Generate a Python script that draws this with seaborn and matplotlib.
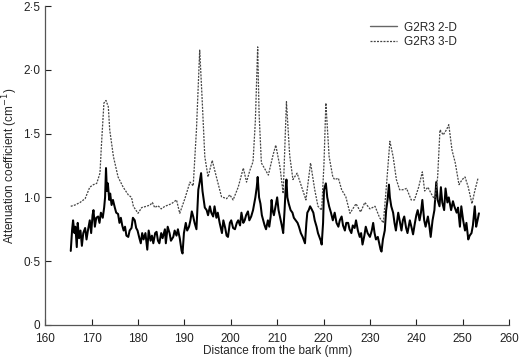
import matplotlib
matplotlib.use("Agg")
import matplotlib.pyplot as plt
import seaborn as sns
import pandas as pd

# ---- data ----
x_2d = [165.5,165.8,166.0,166.3,166.5,166.8,167.0,167.3,167.6,167.9,168.2,168.6,168.9,169.2,169.6,169.9,
        170.2,170.4,170.7,171.0,171.4,171.7,172.0,172.4,172.7,172.9,173.1,173.3,173.5,173.8,174.0,174.3,
        174.6,175.0,175.3,175.7,176.0,176.3,176.6,176.9,177.2,177.5,177.9,178.2,178.6,178.9,179.3,179.6,
        179.9,180.3,180.6,180.9,181.2,181.6,182.0,182.3,182.7,183.0,183.3,183.7,184.0,184.3,184.6,185.0,
        185.3,185.8,186.0,186.4,186.8,187.1,187.6,187.9,188.3,188.6,189.0,189.4,189.6,189.9,190.3,190.6,
        191.0,191.3,191.6,191.9,192.2,192.6,193.0,193.3,193.6,193.9,194.1,194.4,194.8,195.1,195.5,195.8,
        196.2,196.5,196.9,197.2,197.6,198.1,198.4,198.8,199.1,199.4,199.8,200.1,200.5,200.9,201.3,201.6,
        202.0,202.3,202.7,203.0,203.3,203.7,204.0,204.4,204.8,205.3,205.6,205.8,206.1,206.4,206.7,207.0,
        207.3,207.6,208.0,208.3,208.6,208.8,209.0,209.3,209.6,210.0,210.3,210.6,211.0,211.3,211.6,211.8,
        212.0,212.2,212.5,212.9,213.3,213.6,214.0,214.4,214.7,215.1,215.5,215.8,216.0,216.3,216.5,216.8,
        217.1,217.4,217.8,218.1,218.5,218.8,219.1,219.4,219.6,219.9,220.1,220.5,220.8,221.2,221.6,222.0,
        222.4,222.8,223.2,223.5,223.9,224.2,224.6,224.9,225.3,225.6,226.0,226.3,226.7,227.0,227.4,227.8,
        228.1,228.4,228.8,229.1,229.5,230.0,230.4,230.7,231.0,231.3,231.7,232.0,232.3,232.5,232.8,233.2,
        233.5,233.8,234.1,234.3,234.6,235.0,235.3,235.6,236.1,236.5,236.8,237.1,237.4,237.8,238.1,238.6,
        239.0,239.3,239.7,240.0,240.3,240.7,241.0,241.3,241.7,242.0,242.5,242.8,243.1,243.5,243.9,244.3,
        244.6,245.0,245.3,245.6,246.0,246.3,246.7,247.0,247.3,247.5,247.9,248.2,248.7,249.0,249.4,249.7,
        250.1,250.5,250.8,251.2,251.5,251.9,252.2,252.6,252.9,253.2,253.5]
y_2d = [0.58,0.75,0.82,0.72,0.77,0.61,0.80,0.68,0.74,0.62,0.72,0.76,0.67,0.74,0.82,0.72,
        0.86,0.90,0.77,0.84,0.85,0.80,0.88,0.84,0.92,1.00,1.23,1.05,1.11,0.98,1.03,0.94,
        0.98,0.92,0.88,0.87,0.80,0.84,0.78,0.74,0.77,0.70,0.69,0.74,0.76,0.84,0.82,0.76,
        0.74,0.68,0.64,0.72,0.67,0.72,0.59,0.74,0.66,0.70,0.64,0.72,0.73,0.66,0.64,0.72,
        0.68,0.75,0.64,0.77,0.72,0.66,0.69,0.74,0.70,0.75,0.68,0.58,0.56,0.72,0.80,0.74,
        0.77,0.82,0.89,0.85,0.80,0.75,1.06,1.12,1.19,1.05,1.00,0.92,0.90,0.86,0.93,0.88,
        0.85,0.93,0.84,0.88,0.80,0.72,0.82,0.76,0.70,0.69,0.80,0.82,0.76,0.75,0.80,0.82,
        0.78,0.88,0.80,0.82,0.86,0.89,0.82,0.85,0.90,1.00,1.08,1.16,1.00,0.95,0.86,0.82,
        0.78,0.75,0.82,0.77,0.85,0.98,0.90,0.86,0.92,1.00,0.90,0.85,0.78,0.72,0.90,1.05,
        1.14,1.00,0.95,0.90,0.88,0.84,0.82,0.80,0.77,0.72,0.69,0.66,0.64,0.80,0.88,0.90,
        0.93,0.91,0.88,0.82,0.77,0.72,0.69,0.66,0.63,0.80,1.06,1.11,1.00,0.93,0.88,0.82,
        0.88,0.80,0.77,0.82,0.85,0.78,0.74,0.80,0.80,0.75,0.72,0.78,0.76,0.82,0.74,0.69,
        0.72,0.63,0.70,0.77,0.72,0.69,0.74,0.80,0.72,0.67,0.69,0.64,0.59,0.575,0.67,0.74,
        0.90,0.98,1.10,1.00,0.93,0.88,0.80,0.74,0.88,0.80,0.74,0.82,0.85,0.76,0.72,0.82,
        0.76,0.71,0.80,0.86,0.90,0.82,0.88,0.98,0.82,0.77,0.85,0.78,0.69,0.82,0.90,1.12,
        0.98,0.93,1.08,0.96,0.90,1.07,0.96,1.00,0.94,0.90,0.97,0.93,0.88,0.92,0.77,0.93,
        0.82,0.74,0.80,0.67,0.70,0.72,0.78,0.93,0.77,0.82,0.875]

x_3d = [165.5,166.4,167.5,168.6,169.6,170.4,171.1,171.8,172.1,172.65,173.1,173.6,173.9,174.7,175.7,176.8,
        177.9,178.6,179.0,180.0,180.8,181.8,182.6,183.1,183.6,184.3,185.0,185.8,186.5,187.2,188.3,189.0,
        190.1,191.2,191.9,192.6,193.3,193.8,194.4,195.1,196.0,196.9,198.0,199.1,199.8,200.5,201.6,202.7,
        203.4,204.1,204.8,205.3,205.8,206.1,206.6,208.1,209.1,209.7,210.6,211.3,212.0,212.7,213.4,214.3,
        215.3,216.2,217.2,218.1,218.8,219.6,220.1,220.5,221.2,222.0,222.4,223.2,223.9,224.8,225.7,227.0,
        228.0,228.9,230.0,231.1,232.1,232.9,233.6,234.3,235.0,235.7,236.4,237.1,237.9,238.9,239.6,240.5,
        241.3,241.8,242.5,243.2,244.0,244.6,245.1,245.8,246.5,247.0,247.7,248.4,249.2,249.9,250.5,251.2,
        252.0,252.6,253.3]
y_3d = [0.93,0.94,0.96,0.99,1.08,1.10,1.11,1.19,1.40,1.74,1.76,1.71,1.53,1.32,1.16,1.08,
        1.02,1.00,0.93,0.875,0.92,0.93,0.94,0.96,0.92,0.935,0.91,0.93,0.94,0.95,0.98,0.875,
        0.99,1.12,1.09,1.53,2.155,1.79,1.32,1.16,1.29,1.16,1.005,0.99,1.02,0.98,1.08,1.23,
        1.12,1.21,1.28,1.60,2.18,1.66,1.27,1.175,1.33,1.41,1.24,1.03,1.75,1.33,1.14,1.19,
        1.08,0.98,1.27,1.06,0.93,0.90,1.27,1.74,1.32,1.16,1.14,1.15,1.06,1.005,0.875,0.95,
        0.885,0.96,0.91,0.93,0.84,0.80,1.11,1.44,1.32,1.14,1.06,1.06,1.07,0.98,0.98,1.08,
        1.20,1.05,1.08,1.03,0.98,1.16,1.53,1.49,1.53,1.57,1.37,1.27,1.10,1.14,1.16,1.08,
        0.95,1.05,1.15]

x_ticks = [160, 170, 180, 190, 200, 210, 220, 230, 240, 250, 260]
y_ticks = [0, 0.5, 1.0, 1.5, 2.0, 2.5]
y_tick_labels = ["0", "0·5", "1·0", "1·5", "2·0", "2·5"]
label_2d = "G2R3 2-D"
label_3d = "G2R3 3-D"

df2 = pd.DataFrame({"x": x_2d, "y": y_2d})
df3 = pd.DataFrame({"x": x_3d, "y": y_3d})

sns.set_style("ticks")
plt.rcParams["font.family"] = ["Liberation Sans", "DejaVu Sans"]
plt.rcParams["font.size"] = 8

fig = plt.figure(figsize=(5.2, 3.59), dpi=100)
ax = fig.add_axes([0.087, 0.095, 0.892, 0.888])

sns.lineplot(data=df2, x="x", y="y", ax=ax, color="black", linewidth=1.45,
             label=label_2d, estimator=None, sort=False)
sns.lineplot(data=df3, x="x", y="y", ax=ax, color="#444444", linewidth=0.9,
             linestyle=(0, (1.6, 1.0)), label=label_3d, estimator=None, sort=False)

ax.set_xlim(160, 260)
ax.set_ylim(0, 2.5)
ax.set_xticks(x_ticks)
ax.set_xticklabels([str(t) for t in x_ticks])
ax.set_yticks(y_ticks)
ax.set_yticklabels(y_tick_labels)
ax.tick_params(direction="in", length=4, width=0.8, labelsize=8.5, colors="#222222")
ax.tick_params(axis="x", pad=5.5)
for s in ["top", "right"]:
    ax.spines[s].set_visible(False)
for s in ["left", "bottom"]:
    ax.spines[s].set_color("#555555")
    ax.spines[s].set_linewidth(0.9)

ax.set_xlabel("Distance from the bark (mm)", fontsize=8.5, labelpad=0)
ax.set_ylabel("Attenuation coefficient (cm$^{-1}$)", fontsize=8.5, labelpad=2)

leg = ax.legend(loc="upper right", bbox_to_anchor=(0.91, 0.985), frameon=False,
                fontsize=8.5, handlelength=2.3, handletextpad=0.6, labelspacing=0.25)
leg.get_lines()[0].set_linewidth(1.0)
leg.get_lines()[0].set_color("#666666")

fig.savefig("out.png", dpi=100)
